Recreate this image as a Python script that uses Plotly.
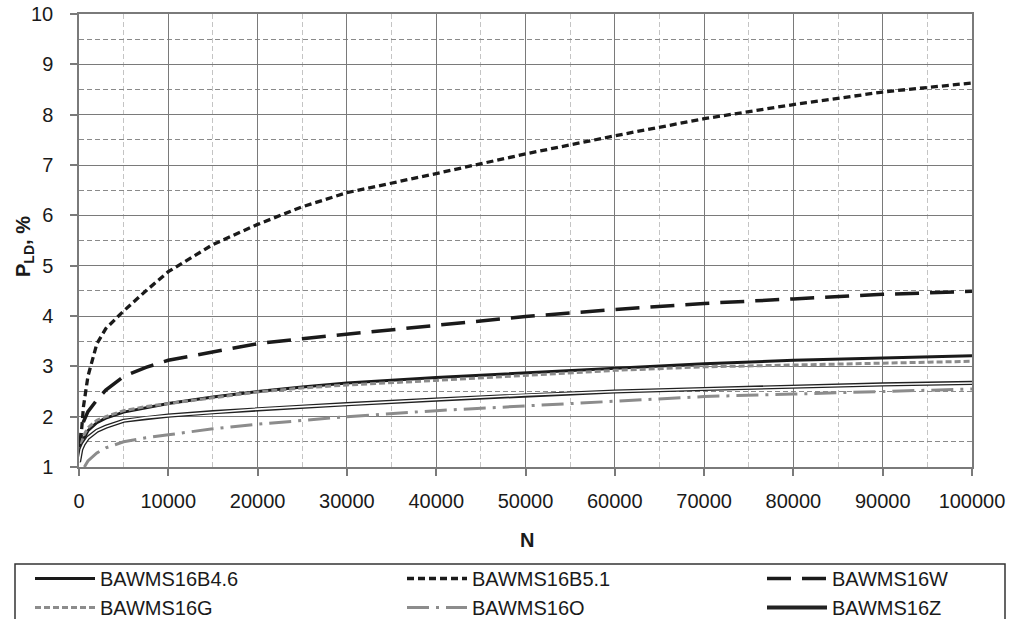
import plotly.graph_objects as go

# ---- data ----
N = [0, 250, 500, 1000, 2000, 3000, 5000, 7500, 10000, 15000, 20000, 25000,
     30000, 40000, 50000, 60000, 70000, 80000, 90000, 100000]

B46 = [1.1, 1.4, 1.55, 1.72, 1.88, 1.97, 2.09, 2.18, 2.26, 2.39, 2.5, 2.59,
       2.67, 2.78, 2.87, 2.97, 3.05, 3.12, 3.17, 3.21]
B51 = [1.1, 1.65, 2.2, 2.8, 3.45, 3.75, 4.1, 4.5, 4.88, 5.42, 5.82, 6.17,
       6.45, 6.83, 7.22, 7.58, 7.92, 8.2, 8.45, 8.63]
W = [1.2, 1.7, 1.9, 2.1, 2.33, 2.53, 2.8, 2.98, 3.12, 3.29, 3.45, 3.55,
     3.64, 3.81, 3.99, 4.13, 4.25, 4.34, 4.43, 4.49]
G = [1.1, 1.45, 1.62, 1.78, 1.93, 2.0, 2.12, 2.2, 2.26, 2.38, 2.49, 2.57,
     2.63, 2.72, 2.82, 2.92, 2.99, 3.03, 3.07, 3.1]
N_O = [600, 1000, 2000, 3000, 5000, 7500, 10000, 15000, 20000, 25000, 30000,
       40000, 50000, 60000, 70000, 80000, 90000, 100000]
O = [1.0, 1.12, 1.28, 1.38, 1.5, 1.58, 1.64, 1.76, 1.85, 1.93, 2.0, 2.12,
     2.21, 2.31, 2.4, 2.45, 2.5, 2.55]
Z = [1.1, 1.35, 1.45, 1.58, 1.72, 1.8, 1.92, 1.98, 2.02, 2.09, 2.15, 2.2,
     2.25, 2.34, 2.43, 2.5, 2.55, 2.6, 2.64, 2.67]

names = ["BAWMS16B4.6", "BAWMS16B5.1", "BAWMS16W", "BAWMS16G", "BAWMS16O", "BAWMS16Z"]

BLACK = "#1a1a1a"
GRAY = "#8c8c8c"
FONT = "Liberation Sans, Arial, sans-serif"

fig = go.Figure()
fig.add_trace(go.Scatter(x=N, y=B46, mode="lines", name=names[0], legend="legend",
                         line=dict(color=BLACK, width=3)))
fig.add_trace(go.Scatter(x=N, y=B51, mode="lines", name=names[1], legend="legend2",
                         line=dict(color=BLACK, width=3.3, dash="7px,4px")))
fig.add_trace(go.Scatter(x=N, y=W, mode="lines", name=names[2], legend="legend3",
                         line=dict(color=BLACK, width=3.5, dash="24px,11px")))
fig.add_trace(go.Scatter(x=N, y=G, mode="lines", name=names[3], legend="legend",
                         line=dict(color=GRAY, width=3, dash="6px,3px")))
fig.add_trace(go.Scatter(x=N_O, y=O, mode="lines", name=names[4], legend="legend2",
                         line=dict(color=GRAY, width=3, dash="22px,7px,3px,7px")))
fig.add_trace(go.Scatter(x=N, y=Z, mode="lines", name=names[5], legend="legend3",
                         line=dict(color="#222222", width=4.2)))
fig.add_trace(go.Scatter(x=N, y=Z, mode="lines", showlegend=False, hoverinfo="skip",
                         line=dict(color="white", width=1.6)))

W_PX, H_PX = 1015, 619
L, R, T, B = 79, 43, 14, 152
pw = W_PX - L - R
ph = H_PX - T - B


def px_x(p):
    return (p - L) / pw


def px_y(p):
    return (H_PX - B - p) / ph


leg_common = dict(orientation="v", xanchor="left", yanchor="top",
                  font=dict(family=FONT, size=20, color=BLACK),
                  bgcolor="rgba(0,0,0,0)", itemwidth=60, tracegroupgap=0,
                  y=px_y(559))

fig.update_layout(
    width=W_PX, height=H_PX,
    margin=dict(l=L, r=R, t=T, b=B, autoexpand=False),
    paper_bgcolor="white", plot_bgcolor="white",
    font=dict(family=FONT, size=20, color=BLACK),
    xaxis=dict(range=[0, 100000], dtick=10000, tick0=0, tickformat="d",
               showline=True, linecolor="#7a7a7a", linewidth=1.5, mirror=True,
               ticks="outside", ticklen=7, tickcolor="#7a7a7a", tickwidth=1.5,
               showgrid=True, gridcolor="#7a7a7a", gridwidth=1.4, zeroline=False,
               tickfont=dict(size=20, color=BLACK), ticklabelstandoff=8,
               minor=dict(dtick=5000, tick0=0, showgrid=True, gridcolor="#c4c4c4",
                          griddash="5px,3px", gridwidth=1)),
    yaxis=dict(range=[1, 10], dtick=1, tick0=0,
               showline=True, linecolor="#7a7a7a", linewidth=1.5, mirror=True,
               ticks="outside", ticklen=7, tickcolor="#7a7a7a", tickwidth=1.5,
               showgrid=True, gridcolor="#7a7a7a", gridwidth=1.4, zeroline=False,
               tickfont=dict(size=20, color=BLACK), ticklabelstandoff=13,
               minor=dict(dtick=0.5, tick0=0, showgrid=True, gridcolor="#8a8a8a",
                          griddash="5px,3px", gridwidth=1)),
    legend=dict(leg_common, x=px_x(30)),
    legend2=dict(leg_common, x=px_x(402)),
    legend3=dict(leg_common, x=px_x(762)),
    showlegend=True,
    shapes=[dict(type="rect", xref="paper", yref="paper",
                 x0=px_x(15), x1=px_x(1005), y0=px_y(564), y1=px_y(640),
                 line=dict(color="#333333", width=1.5), layer="above")],
    annotations=[
        dict(text="<b>P<sub>LD</sub>, %</b>", xref="paper", yref="paper",
             x=px_x(25), y=px_y(247), xanchor="center", yanchor="middle",
             textangle=-90, showarrow=False,
             font=dict(size=20, color=BLACK, family=FONT)),
        dict(text="<b>N</b>", xref="paper", yref="paper",
             x=px_x(527), y=px_y(540), xanchor="center", yanchor="middle",
             showarrow=False,
             font=dict(size=20, color=BLACK, family=FONT)),
    ],
)

fig.write_html("out.html")
